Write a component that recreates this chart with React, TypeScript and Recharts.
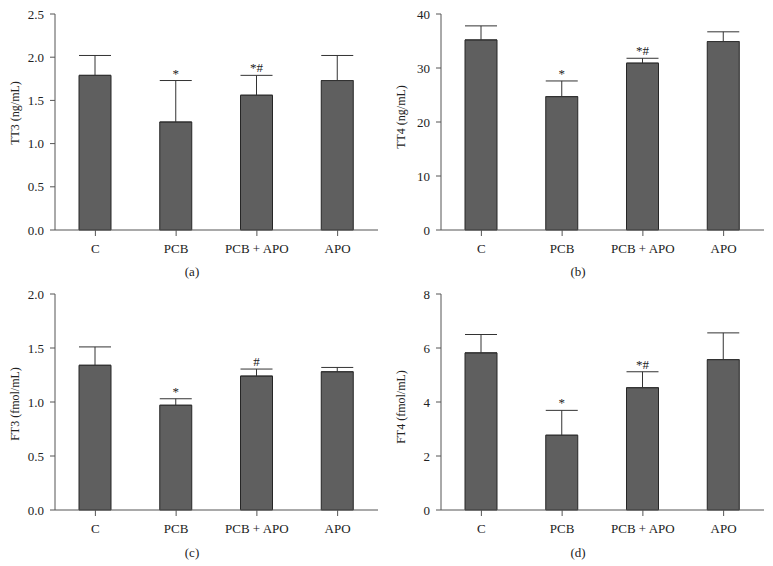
import React from "react";
import { BarChart, Bar, XAxis, YAxis, ErrorBar, LabelList } from "recharts";

const groups = ["C", "PCB", "PCB + APO", "APO"];

// (a) TT3
const tt3Mean = [1.79, 1.25, 1.56, 1.73];
const tt3Err = [0.23, 0.48, 0.23, 0.29];
const tt3Marks = ["", "*", "*#", ""];
const tt3Ticks = [0, 0.5, 1.0, 1.5, 2.0, 2.5];

// (b) TT4
const tt4Mean = [35.2, 24.7, 30.9, 34.9];
const tt4Err = [2.6, 2.9, 0.9, 1.8];
const tt4Marks = ["", "*", "*#", ""];
const tt4Ticks = [0, 10, 20, 30, 40];

// (c) FT3
const ft3Mean = [1.34, 0.97, 1.24, 1.28];
const ft3Err = [0.17, 0.06, 0.065, 0.04];
const ft3Marks = ["", "*", "#", ""];
const ft3Ticks = [0, 0.5, 1.0, 1.5, 2.0];

// (d) FT4
const ft4Mean = [5.82, 2.77, 4.53, 5.57];
const ft4Err = [0.68, 0.92, 0.59, 0.99];
const ft4Marks = ["", "*", "*#", ""];
const ft4Ticks = [0, 2, 4, 6, 8];

const FONT = '"Liberation Serif", "DejaVu Serif", serif';
const AXIS = "#555";
const TEXT = "#222";

type PanelProps = {
  left: number;
  top: number;
  axisWidth: number;
  right: number;
  means: number[];
  errs: number[];
  marks: string[];
  ticks: number[];
  decimals: number;
  yLabel: string;
  labelX: number;
  labelY: number;
  caption: string;
  captionX: number;
  captionY: number;
};

const Panel = (p: PanelProps) => {
  const data = groups.map((g, i) => ({
    group: g,
    mean: p.means[i],
    err: [0, p.errs[i]],
    mark: p.marks[i],
  }));
  const max = p.ticks[p.ticks.length - 1];

  // star / hash sits just above the error bar cap
  const renderMark = (props: any) => {
    const vb = props.viewBox || props;
    const { x, y, width, height } = vb;
    const i = props.index;
    const text = p.marks[i];
    if (!text) return null;
    const perUnit = height / p.means[i];
    const errTop = y - p.errs[i] * perUnit;
    return (
      <text
        x={x + width / 2}
        y={errTop - 3}
        textAnchor="middle"
        fontSize={13}
        fontFamily={FONT}
        fill={TEXT}
      >
        {text}
      </text>
    );
  };

  return (
    <>
      <div style={{ position: "absolute", left: p.left, top: p.top }}>
        <BarChart
          width={385}
          height={262}
          data={data}
          margin={{ top: 14, right: p.right, left: 0, bottom: 0 }}
        >
          <XAxis
            dataKey="group"
            height={32}
            stroke={AXIS}
            tickSize={6}
            tickMargin={8}
            tick={{ fontSize: 13, fontFamily: FONT, fill: TEXT }}
          />
          <YAxis
            width={p.axisWidth}
            domain={[0, max]}
            ticks={p.ticks}
            stroke={AXIS}
            tickSize={5}
            tickMargin={6}
            tickFormatter={(v: number) => v.toFixed(p.decimals)}
            tick={{ fontSize: 13, fontFamily: FONT, fill: TEXT }}
          />
          <Bar
            dataKey="mean"
            barSize={32}
            fill="#5f5f5f"
            stroke="#262626"
            strokeWidth={1}
            isAnimationActive={false}
          >
            <ErrorBar dataKey="err" width={16} stroke="#333" strokeWidth={1} direction="y" />
            <LabelList dataKey="mark" content={renderMark} />
          </Bar>
        </BarChart>
      </div>
      <div
        style={{
          position: "absolute",
          left: p.labelX,
          top: p.labelY,
          transform: "translate(-50%, -50%) rotate(-90deg)",
          whiteSpace: "nowrap",
          fontSize: 12,
          lineHeight: 1,
          fontFamily: FONT,
          color: TEXT,
        }}
      >
        {p.yLabel}
      </div>
      <div
        style={{
          position: "absolute",
          left: p.captionX,
          top: p.captionY,
          transform: "translate(-50%, -50%)",
          whiteSpace: "nowrap",
          fontSize: 13,
          lineHeight: 1,
          fontFamily: FONT,
          color: TEXT,
        }}
      >
        {p.caption}
      </div>
    </>
  );
};

export default function App() {
  return (
    <div
      style={{
        position: "absolute",
        left: 0,
        top: 0,
        width: 773,
        height: 566,
        background: "#fff",
        overflow: "hidden",
      }}
    >
      <Panel
        left={0}
        top={0}
        axisWidth={55}
        right={7}
        means={tt3Mean}
        errs={tt3Err}
        marks={tt3Marks}
        ticks={tt3Ticks}
        decimals={1}
        yLabel="TT3 (ng/mL)"
        labelX={15}
        labelY={113}
        caption="(a)"
        captionX={192}
        captionY={271}
      />
      <Panel
        left={385}
        top={0}
        axisWidth={56}
        right={6}
        means={tt4Mean}
        errs={tt4Err}
        marks={tt4Marks}
        ticks={tt4Ticks}
        decimals={0}
        yLabel="TT4 (ng/mL)"
        labelX={401}
        labelY={117}
        caption="(b)"
        captionX={578}
        captionY={271}
      />
      <Panel
        left={0}
        top={280}
        axisWidth={55}
        right={7}
        means={ft3Mean}
        errs={ft3Err}
        marks={ft3Marks}
        ticks={ft3Ticks}
        decimals={1}
        yLabel="FT3 (fmol/mL)"
        labelX={15}
        labelY={404}
        caption="(c)"
        captionX={192}
        captionY={552}
      />
      <Panel
        left={385}
        top={280}
        axisWidth={56}
        right={6}
        means={ft4Mean}
        errs={ft4Err}
        marks={ft4Marks}
        ticks={ft4Ticks}
        decimals={0}
        yLabel="FT4 (fmol/mL)"
        labelX={401}
        labelY={407}
        caption="(d)"
        captionX={578}
        captionY={552}
      />
    </div>
  );
}
